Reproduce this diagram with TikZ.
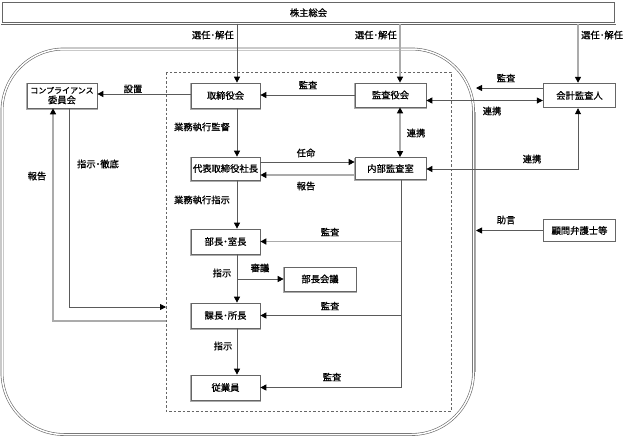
\documentclass[tikz,border=0pt]{standalone}
\usepackage{fontspec}
\newfontfamily\jp{Noto Sans CJK JP}[FakeBold=0.8]
\usetikzlibrary{arrows.meta}
\definecolor{lnD}{HTML}{5A5A5A}
\definecolor{lnL}{HTML}{ABABAB}
\definecolor{bxc}{HTML}{666666}
\begin{document}
\begin{tikzpicture}[x=1pt,y=-1pt,
  every node/.style={font=\jp\fontsize{9.3}{10.5}\selectfont, inner sep=0pt},
  box/.style={draw=bxc, fill=white, line width=0.7pt, align=center,
    preaction={draw=lnL, line width=1.2pt, transform canvas={yshift=-0.9pt}}},
  dbox/.style={align=center},
  dbl/.style={draw=bxc, double=white, double distance=1.3pt, line width=0.6pt},
  arr/.style={draw=lnD, line width=0.8pt, -{Triangle[length=6pt,width=6pt,color=black]}},
  darr/.style={draw=lnD, line width=0.8pt, {Triangle[length=6pt,width=6pt,color=black]}-{Triangle[length=6pt,width=6pt,color=black]}},
  light/.style={draw=lnL, line width=1.4pt}]
\useasboundingbox (0,0) rectangle (623,437);
% container
\draw[dbl, double distance=1.5pt, rounded corners=62pt] (2,49) rectangle (473.5,434.5);
\draw[draw=lnL, line width=1.2pt] (475.2,112) -- (475.2,372);
\draw[draw=bxc, line width=0.6pt, dash pattern=on 2.5pt off 2pt] (166,72) rectangle (451,411);
% coordinates
\coordinate (x1) at (237,0);
\coordinate (x2) at (400,0);
\coordinate (x3) at (578,0);
\coordinate (xv) at (401,0);
\coordinate (xc1) at (69,0);
\coordinate (xc2) at (53,0);
\coordinate (cr) at (476,0);
\coordinate (dL) at (166,0);
\coordinate (ya) at (0,88);
\coordinate (yb) at (0,100.5);
\coordinate (yc) at (0,169);
\coordinate (yn) at (0,162);
\coordinate (yh) at (0,175);
\coordinate (ys) at (0,307);
\coordinate (yr) at (0,321);
\coordinate (sg) at (237,279);
% boxes
\node[dbox, minimum width=613pt, minimum height=21.5pt] (kabu) at (308.5,12.75) {株主総会};
\node[box, minimum width=70pt, minimum height=25pt] (comp) at (62,95.5) {{\fontsize{8}{10}\selectfont コンプライアンス}\\[-0.5pt]委員会};
\node[box, minimum width=69pt, minimum height=25pt] (tori) at (225.5,95.5) {取締役会};
\node[box, minimum width=71pt, minimum height=24pt] (kansa) at (390.5,95) {監査役会};
\node[dbox, minimum width=73pt, minimum height=25pt] (kaikei) at (579.5,95.5) {会計監査人};
\node[box, minimum width=69pt, minimum height=23pt] (daihyo) at (225.5,168.5) {代表取締役社長};
\node[box, minimum width=71pt, minimum height=22pt] (naibu) at (390.5,168.5) {内部監査室};
\node[box, minimum width=69pt, minimum height=25pt] (bucho) at (225.5,241.5) {部長･室長};
\node[box, minimum width=72pt, minimum height=24pt] (bukai) at (320,279) {部長会議};
\node[box, minimum width=69pt, minimum height=25pt] (kacho) at (225.5,315.5) {課長･所長};
\node[box, minimum width=69pt, minimum height=25pt] (jugyo) at (225.5,387.5) {従業員};
\node[dbox, minimum width=73pt, minimum height=23pt] (komon) at (579.5,230.5) {顧問弁護士等};
\draw[dbl] (kabu.north west) rectangle (kabu.south east);
\draw[dbl] (kaikei.north west) rectangle (kaikei.south east);
\draw[dbl] (komon.north west) rectangle (komon.south east);
% connectors
\draw[arr] (kabu.south -| x1) -- (tori.north -| x1);
\draw[arr, light] (kabu.south -| x2) -- (kansa.north -| x2);
\draw[arr, light] (kabu.south -| x3) -- (kaikei.north -| x3);
\draw[arr] (kansa.west) -- (kansa.west -| tori.east);
\draw[arr] (tori.west |- 0,94) -- (comp.east |- 0,94);
\draw[arr] (kaikei.west |- ya) -- (cr |- ya);
\draw[darr] (kansa.east |- yb) -- (kaikei.west |- yb);
\draw[darr, light] (kansa.south -| x2) -- (naibu.north -| x2);
\draw[darr] (naibu.east |- yc) -| (kaikei.south -| x3);
\draw[arr] (tori.south -| x1) -- (daihyo.north -| x1);
\draw[arr] (daihyo.east |- yn) -- (naibu.west |- yn);
\draw[arr, light] (naibu.west |- yh) -- (daihyo.east |- yh);
\draw[arr] (daihyo.south -| x1) -- (bucho.north -| x1);
\draw[arr] (bucho.south -| x1) -- (kacho.north -| x1);
\draw[arr] (sg) -- (bukai.west);
\draw[arr] (kacho.south -| x1) -- (jugyo.north -| x1);
\draw[arr] (naibu.south -| xv) |- (jugyo.east);
\draw[arr, light] (bucho.east -| xv) -- (bucho.east);
\draw[arr] (kacho.east -| xv) -- (kacho.east);
\draw[arr] (komon.west) -- (komon.west -| cr);
\draw[arr] (comp.south -| xc1) |- (dL |- ys);
\draw[arr, light] (dL |- yr) -| (comp.south -| xc2);
% labels
\node[anchor=east] (s1) at (234,35) {選任･解任};
\node[anchor=east] (s2) at (397,35) {選任･解任};
\node[anchor=west] (s3) at (581,35) {選任･解任};
\node (lsecchi) at (133,89) {設置};
\node (lkansa1) at (308,85) {監査};
\node (lkansa2) at (506,78) {監査};
\node (lren1) at (492,111) {連携};
\node (lren2) at (416,133) {連携};
\node (lnin) at (306,153) {任命};
\node (lhou1) at (306,186) {報告};
\node (lren3) at (532,159) {連携};
\node (lkan) at (202,127) {業務執行監督};
\node (lshitetsu) at (98,164) {指示･徹底};
\node (lhou2) at (37,176) {報告};
\node (lshiji) at (202,200) {業務執行指示};
\node (lkansa3) at (330,232) {監査};
\node (lkansa4) at (330,306) {監査};
\node (lkansa5) at (332,377) {監査};
\node (ljogen) at (506,220) {助言};
\node (lsj1) at (222,273) {指示};
\node (lshingi) at (260,268) {審議};
\node (lsj2) at (223,346) {指示};
\end{tikzpicture}
\end{document}
